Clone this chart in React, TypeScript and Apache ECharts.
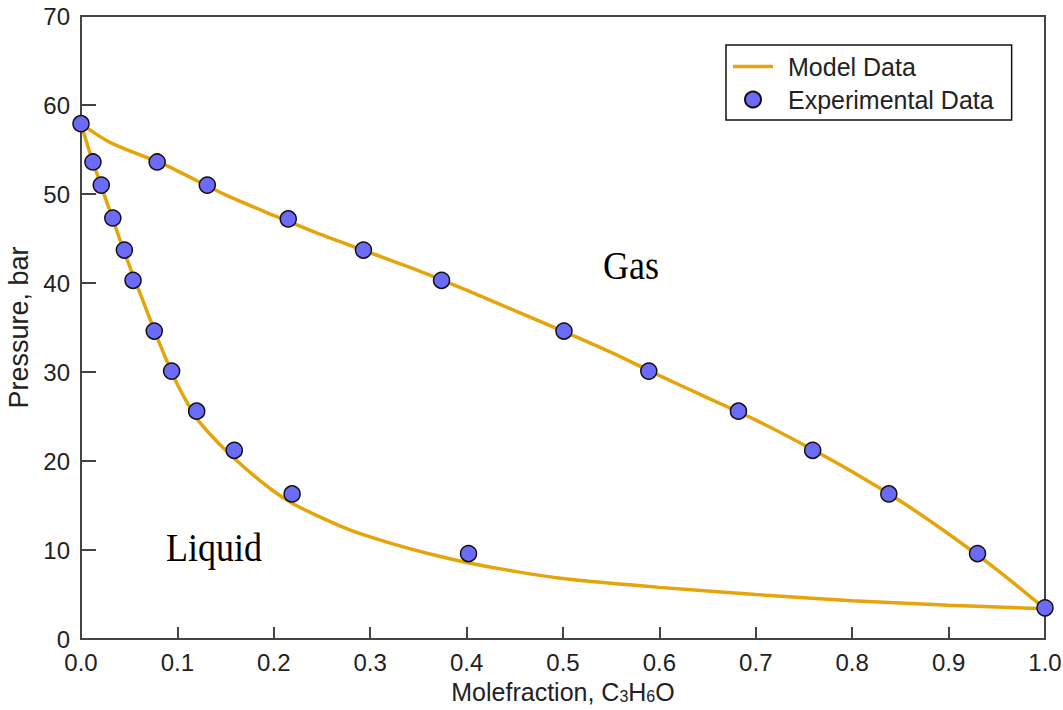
import React, { useEffect, useRef } from "react";
import * as echarts from "echarts";

// Experimental data: vapour (dew) branch
const gasX = [0.0, 0.079, 0.131, 0.215, 0.293, 0.374, 0.501, 0.589, 0.682, 0.759, 0.838, 0.93, 1.0];
const gasP = [57.9, 53.6, 51.0, 47.2, 43.7, 40.3, 34.6, 30.1, 25.6, 21.2, 16.3, 9.6, 3.5];
// Experimental data: liquid (bubble) branch
const liqX = [0.0124, 0.021, 0.033, 0.045, 0.054, 0.076, 0.094, 0.12, 0.159, 0.219, 0.402];
const liqP = [53.6, 51.0, 47.3, 43.7, 40.3, 34.6, 30.1, 25.6, 21.2, 16.3, 9.6];

// Model curves
const modelDewX = [0, 0.03, 0.08, 0.1, 0.15, 0.2, 0.25, 0.3, 0.35, 0.4, 0.45, 0.5, 0.55, 0.6, 0.65, 0.7, 0.75, 0.8, 0.85, 0.9, 0.95, 1.0];
const modelDewP = [57.9, 55.8, 53.6, 52.6, 49.9, 47.6, 45.4, 43.4, 41.4, 39.2, 36.9, 34.6, 32.2, 29.6, 27.1, 24.6, 21.8, 18.8, 15.5, 11.8, 7.8, 3.4];
const modelBubX = [0, 0.01, 0.02, 0.03, 0.04, 0.05, 0.06, 0.07, 0.08, 0.09, 0.1, 0.12, 0.14, 0.16, 0.18, 0.2, 0.22, 0.25, 0.28, 0.32, 0.36, 0.4, 0.45, 0.5, 0.6, 0.7, 0.8, 0.9, 1.0];
const modelBubP = [57.9, 54.4, 51.2, 48.1, 45.0, 42.0, 39.2, 36.4, 33.6, 31.0, 28.6, 24.8, 22.3, 20.2, 18.3, 16.6, 15.2, 13.6, 12.2, 10.8, 9.6, 8.6, 7.6, 6.8, 5.8, 5.0, 4.3, 3.8, 3.4];

const LINE = "#E5A50A";
const DOT = "#6B6BF7";
const SANS = "'Liberation Sans', Arial, Helvetica, sans-serif";
const SERIF = "'Liberation Serif', 'Times New Roman', serif";

export default function App() {
  const ref = useRef<HTMLDivElement>(null);
  useEffect(() => {
    if (!ref.current) return;
    const chart = echarts.init(ref.current, null, { renderer: "svg" });
    const zip = (xs: number[], ys: number[]) => xs.map((x, i) => [x, ys[i]]);
    const expData = [...zip(gasX, gasP), ...zip(liqX, liqP)];
    chart.setOption({
      animation: false,
      backgroundColor: "#fff",
      grid: {
        left: 81,
        right: 18,
        top: 16,
        bottom: 71,
        containLabel: false,
        outerBoundsMode: "none",
        show: true,
        borderColor: "#444",
        borderWidth: 2,
        backgroundColor: "transparent",
      },
      legend: {
        orient: "vertical",
        left: 726,
        top: 45,
        padding: [9, 18, 8, 7],
        itemGap: 8,
        itemWidth: 40,
        itemHeight: 16,
        borderColor: "#111",
        borderWidth: 1.5,
        textStyle: { fontFamily: SANS, fontSize: 25, color: "#222", padding: [0, 0, 0, 10] },
        data: [
          {
            name: "Model Data",
            icon: "path://M0,6.2L40,6.2L40,9.8L0,9.8Z M0,0L0.01,0L0,0.01Z M40,16L39.99,16L40,15.99Z",
            itemStyle: { color: LINE },
          },
          { name: "Experimental Data", icon: "circle" },
        ],
      },
      xAxis: {
        type: "value",
        min: 0,
        max: 1,
        interval: 0.1,
        name: "{n|Molefraction, C}{s|3}{n|H}{s|6}{n|O}",
        nameLocation: "middle",
        nameGap: 36,
        nameTextStyle: {
          rich: {
            n: { fontFamily: SANS, fontSize: 25, lineHeight: 26, color: "#222" },
            s: { fontFamily: SANS, fontSize: 16, lineHeight: 16, color: "#222", padding: [10, 0, 0, 0] },
          },
        },
        axisLine: { show: true, lineStyle: { color: "#444", width: 2 } },
        axisTick: { show: true, inside: true, length: 12, lineStyle: { color: "#444", width: 2 } },
        axisLabel: {
          fontFamily: SANS,
          fontSize: 24,
          lineHeight: 22,
          color: "#222",
          margin: 12,
          formatter: (v: number) => v.toFixed(1),
        },
        splitLine: { show: false },
      },
      yAxis: {
        type: "value",
        min: 0,
        max: 70,
        interval: 10,
        name: "Pressure, bar",
        nameLocation: "middle",
        nameGap: 48,
        nameRotate: 90,
        nameTextStyle: { fontFamily: SANS, fontSize: 27, color: "#222" },
        axisLine: { show: true, lineStyle: { color: "#444", width: 2 } },
        axisTick: { show: true, inside: true, length: 15, lineStyle: { color: "#444", width: 2 } },
        axisLabel: { fontFamily: SANS, fontSize: 24, lineHeight: 20, color: "#222", margin: 11 },
        splitLine: { show: false },
      },
      series: [
        {
          name: "Model Data",
          type: "line",
          data: zip(modelDewX, modelDewP),
          smooth: 0.3,
          symbol: "none",
          lineStyle: { color: LINE, width: 3.5 },
          itemStyle: { color: LINE },
          z: 2,
        },
        {
          name: "Model Data",
          type: "line",
          data: zip(modelBubX, modelBubP),
          smooth: 0.3,
          symbol: "none",
          lineStyle: { color: LINE, width: 3.5 },
          itemStyle: { color: LINE },
          z: 2,
        },
        {
          name: "Experimental Data",
          type: "scatter",
          data: expData,
          symbolSize: 16,
          itemStyle: { color: DOT, borderColor: "#111", borderWidth: 1.5, opacity: 1 },
          z: 3,
        },
      ],
      graphic: [
        {
          type: "text",
          x: 603,
          y: 265,
          scaleY: 1.12,
          style: { text: "Gas", fontFamily: SERIF, fontSize: 36, fill: "#000", verticalAlign: "middle" },
        },
        {
          type: "text",
          x: 166,
          y: 547,
          scaleY: 1.12,
          style: { text: "Liquid", fontFamily: SERIF, fontSize: 36, fill: "#000", verticalAlign: "middle" },
        },
      ],
    });
    return () => chart.dispose();
  }, []);
  return (
    <div
      ref={ref}
      style={{ position: "absolute", left: 0, top: 0, width: 1063, height: 710, background: "#fff" }}
    />
  );
}
